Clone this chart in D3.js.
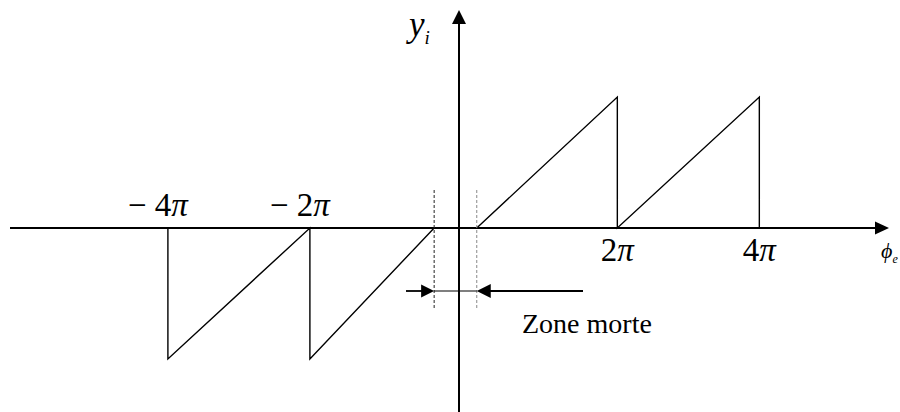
<!DOCTYPE html>
<html>
<head>
<meta charset="utf-8">
<script src="https://cdn.jsdelivr.net/npm/d3@7"></script>
<style>
	body { margin: 0; background: #fff; }
	text { font-family: "Liberation Serif", "Times New Roman", serif; fill: #000; }
</style>
</head>
<body>
<script>
// phase values in units of pi, output normalised to +-1
var pos_ramp = [[0.25, 0], [2.23, 1], [2.23, 0], [4.23, 1], [4.23, 0]]
var neg_ramp = [[-4.1, 0], [-4.1, -1], [-2.1, 0], [-2.1, -1], [-0.35, 0]]
var tick_pos = [-4.1, -2.1, 2.23, 4.23]
var tick_labels = ['\u2212 4', '\u2212 2', '2', '4']
var dead_zone = [-0.35, 0.25]

var width = 900, height = 412
var svg = d3.select('body').append('svg').attr('width', width).attr('height', height)

var x = d3.scaleLinear().domain([0, 2]).range([459, 601])
var y = d3.scaleLinear().domain([-1, 1]).range([359, 97])

var line = d3.line().x(d => x(d[0])).y(d => y(d[1]))

// arrow head: tip at (tx,ty), pointing in direction (dx,dy)
function head(tx, ty, dx, dy, len, half) {
	var px = -dy, py = dx
	var bx = tx - dx * len, by = ty - dy * len
	svg.append('path')
		.attr('d', 'M' + tx + ',' + ty + 'L' + (bx + px * half) + ',' + (by + py * half) +
			'L' + (bx - px * half) + ',' + (by - py * half) + 'Z')
		.attr('fill', '#000')
}

// axes
svg.append('line')
	.attr('x1', 10).attr('x2', 878).attr('y1', y(0)).attr('y2', y(0))
	.attr('stroke', '#000').attr('stroke-width', 2)
head(889, y(0), 1, 0, 14, 6.5)
svg.append('line')
	.attr('x1', x(0)).attr('x2', x(0)).attr('y1', 412).attr('y2', 22)
	.attr('stroke', '#000').attr('stroke-width', 2)
head(x(0), 10, 0, -1, 14, 7)

// sawtooth
svg.selectAll('.ramp').data([neg_ramp, pos_ramp]).enter().append('path')
	.attr('class', 'ramp')
	.attr('d', line)
	.attr('fill', 'none').attr('stroke', '#000').attr('stroke-width', 1.4)

// dead zone boundaries
svg.selectAll('.dz').data(dead_zone).enter().append('line')
	.attr('class', 'dz')
	.attr('x1', d => x(d)).attr('x2', d => x(d))
	.attr('y1', 190).attr('y2', 310)
	.attr('stroke', (d, i) => i ? '#888' : '#222').attr('stroke-width', 1)
	.attr('stroke-dasharray', '3,2')

// dead zone arrows
var ay = 291
svg.append('line')
	.attr('x1', x(dead_zone[0])).attr('x2', x(dead_zone[1])).attr('y1', ay).attr('y2', ay)
	.attr('stroke', '#000').attr('stroke-width', 1.2)
svg.append('line')
	.attr('x1', 406).attr('x2', x(dead_zone[0]) - 8).attr('y1', ay).attr('y2', ay)
	.attr('stroke', '#000').attr('stroke-width', 1.8)
head(x(dead_zone[0]), ay, 1, 0, 13, 6.5)
svg.append('line')
	.attr('x1', 583).attr('x2', x(dead_zone[1]) + 8).attr('y1', ay).attr('y2', ay)
	.attr('stroke', '#000').attr('stroke-width', 2.2)
head(x(dead_zone[1]), ay, -1, 0, 14, 7)

// tick labels
var lbl = svg.selectAll('.tl').data(tick_pos).enter().append('text')
	.attr('class', 'tl')
	.attr('x', (d, i) => x(d) + (d < 0 ? -10 : 0))
	.attr('y', d => d < 0 ? 216 : 261)
	.attr('text-anchor', 'middle')
	.style('font-size', '33px')
lbl.append('tspan').text((d, i) => tick_labels[i])
lbl.append('tspan').style('font-style', 'italic').text('\u03c0')

// axis titles
var yt = svg.append('text').attr('x', 409).attr('y', 36).style('font-size', '35px')
yt.append('tspan').style('font-style', 'italic').text('y')
yt.append('tspan').style('font-style', 'italic').style('font-size', '19px').attr('dy', 8).text('i')

var xt = svg.append('text').attr('x', 881).attr('y', 258).style('font-size', '22px')
xt.append('tspan').style('font-style', 'italic').text('\u03d5')
xt.append('tspan').style('font-style', 'italic').style('font-size', '12px').attr('dy', 5).text('e')

svg.append('text').attr('x', 522).attr('y', 333).style('font-size', '28px').text('Zone morte')
</script>
</body>
</html>
